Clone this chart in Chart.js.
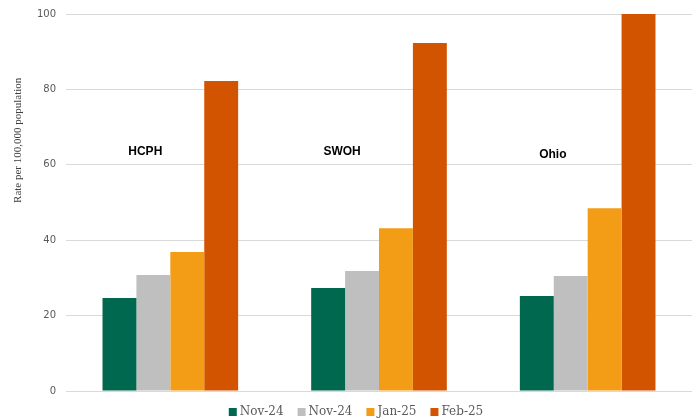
<!DOCTYPE html>
<html>
<head>
<meta charset="utf-8">
<script src="https://cdn.jsdelivr.net/npm/chart.js@4/dist/chart.umd.min.js"></script>
<style>
  html, body { margin: 0; padding: 0; background: #fff; }
  #wrap { width: 696px; height: 420px; }
</style>
</head>
<body>
<div id="wrap"><canvas id="c" width="696" height="420"></canvas></div>
<script>
// Regions compared
const regions = ['HCPH', 'SWOH', 'Ohio'];

// Rates per 100,000 population, by month
const seriesNames = ['Nov-24', 'Nov-24', 'Jan-25', 'Feb-25'];
const nov24a = [24.7, 27.3, 25.2];
const nov24b = [30.8, 31.8, 30.5];
const jan25  = [36.9, 43.2, 48.5];
const feb25  = [82.2, 92.3, 100];

const seriesColors = ['#00684F', '#BFBFBF', '#F39C16', '#D35400'];

// Y axis ticks and title
const yTicks = [0, 20, 40, 60, 80, 100];
const yTitle = 'Rate per 100,000 population';

// Region names written inside the plot, in category / value units
const groupTags = [
  { text: 'HCPH', x: -0.12, y: 63.4 },
  { text: 'SWOH', x: 0.823, y: 63.4 },
  { text: 'Ohio', x: 1.833, y: 62.6 }
];

const tagPlugin = {
  id: 'groupTags',
  afterDatasetsDraw(chart) {
    const { ctx, scales } = chart;
    ctx.save();
    ctx.font = 'bold 12px "Liberation Sans", Arial, sans-serif';
    ctx.fillStyle = '#000';
    ctx.textAlign = 'center';
    ctx.textBaseline = 'middle';
    const step = scales.x.getPixelForValue(1) - scales.x.getPixelForValue(0);
    groupTags.forEach(t => {
      const base = Math.floor(t.x + 0.5);
      const px = scales.x.getPixelForValue(base) + (t.x - base) * step;
      ctx.fillText(t.text, px, scales.y.getPixelForValue(t.y));
    });
    ctx.restore();
  }
};

// Vertical axis title, set in the upper part of the axis
const yTitlePlugin = {
  id: 'yTitle',
  afterDraw(chart) {
    const { ctx, scales } = chart;
    ctx.save();
    ctx.font = '11px "Liberation Serif", "Times New Roman", serif';
    ctx.fillStyle = '#404040';
    ctx.textAlign = 'center';
    ctx.textBaseline = 'middle';
    ctx.translate(18, scales.y.getPixelForValue(66.5));
    ctx.rotate(-Math.PI / 2);
    ctx.fillText(yTitle, 0, 0);
    ctx.restore();
  }
};

// Legend row under the plot: square swatch, then the series name
const legendRowPlugin = {
  id: 'legendRow',
  afterDraw(chart) {
    const { ctx } = chart;
    const sets = chart.data.datasets;
    const box = 8, gapText = 3, gapItem = 14;
    ctx.save();
    ctx.font = '12px "DejaVu Serif", serif';
    ctx.textBaseline = 'middle';
    const widths = sets.map(d => box + gapText + ctx.measureText(d.label).width);
    const total = widths.reduce((a, b) => a + b, 0) + gapItem * (sets.length - 1);
    let x = 356 - total / 2;
    const cy = 412;
    sets.forEach((d, i) => {
      ctx.fillStyle = d.backgroundColor;
      ctx.fillRect(x, cy - box / 2, box, box);
      ctx.fillStyle = '#595959';
      ctx.fillText(d.label, x + box + gapText, cy);
      x += widths[i] + gapItem;
    });
    ctx.restore();
  }
};

const values = [nov24a, nov24b, jan25, feb25];

new Chart(document.getElementById('c'), {
  type: 'bar',
  data: {
    labels: regions,
    datasets: values.map((v, i) => ({
      label: seriesNames[i],
      data: v,
      backgroundColor: seriesColors[i],
      borderWidth: 0,
      barPercentage: 1.0,
      categoryPercentage: 0.65
    }))
  },
  options: {
    responsive: false,
    animation: false,
    devicePixelRatio: 1,
    layout: { padding: { top: 0, right: 4, bottom: 29, left: 0 } },
    plugins: {
      legend: { display: false },
      tooltip: { enabled: false }
    },
    scales: {
      x: {
        afterFit(scale) { scale.height = 0; },
        ticks: { display: false },
        grid: { display: false },
        border: { display: false }
      },
      y: {
        min: 0,
        max: 100,
        afterBuildTicks(scale) { scale.ticks = yTicks.map(v => ({ value: v })); },
        afterFit(scale) { scale.width = 66; },
        ticks: {
          color: '#595959',
          padding: 10,
          font: { family: '"DejaVu Sans", sans-serif', size: 10, lineHeight: 0.8 }
        },
        grid: { color: '#D9D9D9', lineWidth: 1, drawTicks: false },
        border: { display: false }
      }
    }
  },
  plugins: [tagPlugin, yTitlePlugin, legendRowPlugin]
});
</script>
</body>
</html>
